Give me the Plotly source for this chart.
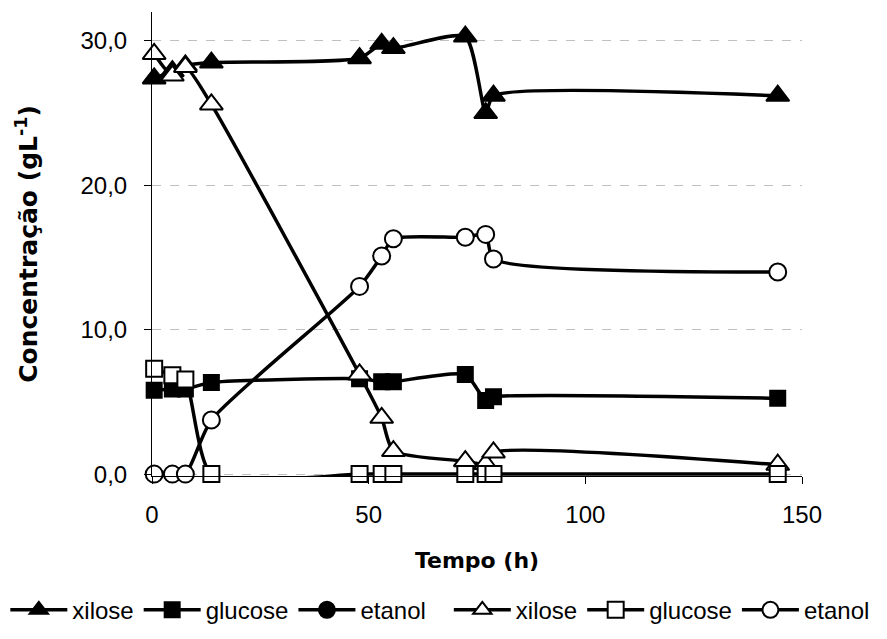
import plotly.graph_objects as go

tempo = [0.5, 4.7, 7.7, 13.7, 47.9, 53.0, 55.7, 72.3, 77.0, 78.8, 144.4]
xilose_a = [27.4, 27.9, 28.3, 28.5, 28.8, 29.8, 29.5, 30.3, 25.0, 26.2, 26.2]
glucose_a = [5.8, 5.9, 5.9, 6.35, 6.6, 6.4, 6.4, 6.9, 5.1, 5.35, 5.25]
etanol_a = [None]
xilose_b = [29.1, 27.6, 28.2, 25.6, 6.9, 3.9, 1.6, 0.9, 0.7, 1.5, 0.65]
glucose_b = [7.3, 6.85, 6.55, 0, 0, 0, 0, 0, 0, 0, 0]
etanol_b = [0, 0, 0, 3.75, 13.0, 15.1, 16.3, 16.4, 16.6, 14.9, 14.0]

x_ticks = [0, 50, 100, 150]
y_ticks = [0, 10, 20, 30]

series = [
    ("xilose", xilose_a, "triangle-up", "black", 20, "legend"),
    ("glucose", glucose_a, "square", "black", 15, "legend"),
    ("etanol", etanol_a, "circle", "black", 16, "legend"),
    ("xilose", xilose_b, "triangle-up", "white", 20, "legend2"),
    ("glucose", glucose_b, "square", "white", 16, "legend2"),
    ("etanol", etanol_b, "circle", "white", 17, "legend2"),
]

fig = go.Figure()
for name, vals, sym, fill, size, leg in series:
    xs = tempo if len(vals) == len(tempo) else [None]
    fig.add_trace(go.Scatter(
        x=xs, y=vals, name=name, mode="lines+markers", legend=leg,
        line=dict(color="black", width=3.5, shape="spline", smoothing=0.6),
        marker=dict(symbol=sym, size=size, color=fill,
                    line=dict(color="black", width=2)),
        cliponaxis=False, showlegend=True,
    ))

leg_common = dict(orientation="h", xref="container", xanchor="left",
                  yref="container", y=0.045, yanchor="middle",
                  font=dict(family="Liberation Sans, Arial", size=24),
                  itemwidth=57, tracegroupgap=0, bgcolor="rgba(0,0,0,0)")

fig.update_layout(
    width=887, height=639,
    margin=dict(l=152, r=85, t=12, b=163, autoexpand=False),
    paper_bgcolor="white", plot_bgcolor="white",
    separators=",.",
    font=dict(family="Liberation Sans, Arial, sans-serif", size=24, color="black"),
    legend=dict(x=0.006, **leg_common),
    legend2=dict(x=0.506, **leg_common),
    xaxis=dict(range=[0, 150], tickvals=x_ticks, showgrid=False, zeroline=False,
               showline=True, linecolor="black", linewidth=1,
               ticks="outside", ticklen=7, tickcolor="black", ticklabelstandoff=10,
               title=dict(text="Tempo (h)", standoff=25,
                          font=dict(family="DejaVu Sans", size=22, weight="bold"))),
    yaxis=dict(range=[-0.13, 32], tickvals=y_ticks, tickformat=".1f", zeroline=False,
               showgrid=True, gridcolor="#c0c0c0", griddash="dash", gridwidth=1,
               showline=True, linecolor="black", linewidth=1,
               ticks="outside", ticklen=7, tickcolor="black", ticklabelstandoff=12,
               title=dict(text="Concentração (gL<sup>-1</sup>)", standoff=35,
                          font=dict(family="DejaVu Sans", size=25, weight="bold"))),
)

fig.write_html("out.html")
